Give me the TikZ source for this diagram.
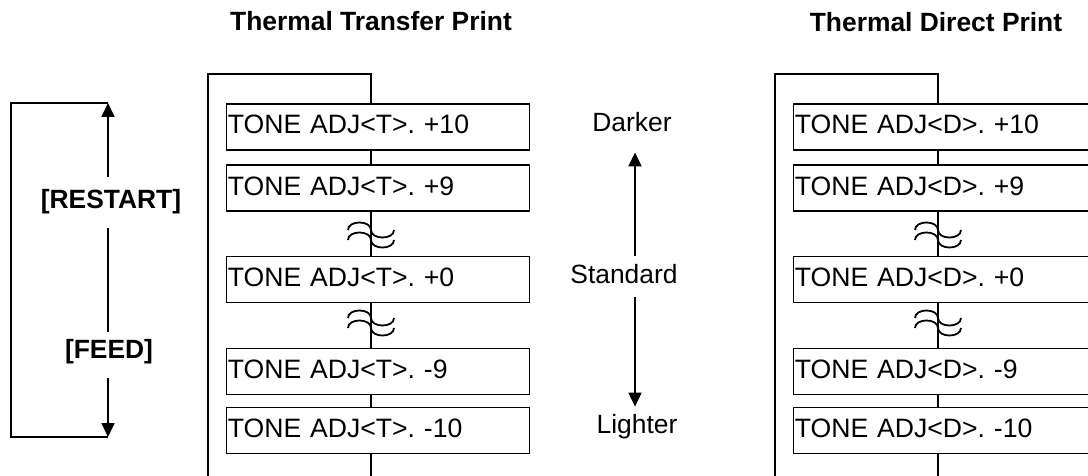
\documentclass[tikz,border=0pt]{standalone}
\usepackage{fontspec}
\setmainfont{Liberation Sans}
\usetikzlibrary{arrows.meta}
\frenchspacing
\tikzset{
  ln/.style={line width=1.7pt},
  tbox/.style={draw, fill=white, line width=1.7pt, anchor=north west,
    inner xsep=1.5pt, inner ysep=0pt, text width=300pt, align=left,
    minimum height=46pt, text height=18pt, text depth=4pt,
    font=\fontsize{26.6}{30}\selectfont},
  lbl/.style={font=\fontsize{26.4}{30}\selectfont, inner sep=0pt, anchor=base},
  blbl/.style={font=\fontsize{26.4}{30}\selectfont\bfseries, inner sep=0pt, anchor=base},
  arr/.style={line width=1.7pt, -{Triangle[length=14pt,width=13pt]}},
}
\newcommand{\tonepanel}[3]{%
  \begin{scope}[xshift=#1]
    \coordinate (#3tl) at (208,74);
    \coordinate (#3tr) at (371,74);
    \coordinate (#3bl) at (208,480);
    \coordinate (#3br) at (371,480);
    \node[tbox] (#3a) at (225.5,103) {TONE ADJ<#2>. +10};
    \node[tbox] (#3b) at (225.5,164.5) {TONE ADJ<#2>. +9};
    \node[tbox] (#3c) at (225.5,255.5) {TONE ADJ<#2>. +0};
    \node[tbox] (#3d) at (225.5,347.5) {TONE ADJ<#2>. -9};
    \node[tbox] (#3e) at (225.5,406.5) {TONE ADJ<#2>. -10};
    \draw[ln] (#3bl) -- (#3tl) -- (#3tr) -- (#3a.north -| #3tr);
    \draw[ln] (#3a.south -| #3tr) -- (#3b.north -| #3tr);
    \draw[ln] (#3b.south -| #3tr) -- (#3c.north -| #3tr);
    \draw[ln] (#3c.south -| #3tr) -- (#3d.north -| #3tr);
    \draw[ln] (#3d.south -| #3tr) -- (#3e.north -| #3tr);
    \draw[ln] (#3e.south -| #3tr) -- (#3br);
    \foreach \yy in {230,240,318,328}{
      \draw[line width=1.8pt] (348,\yy) .. controls (348,\yy-10) and (371,\yy-10) .. (371,\yy)
        .. controls (371,\yy+10) and (394,\yy+10) .. (394,\yy);
    }
  \end{scope}}
\begin{document}
\begin{tikzpicture}[x=1pt,y=-1pt]
  \useasboundingbox (0,0) rectangle (1088,476);
  \clip (0,0) rectangle (1088,476);
  % titles
  \node[blbl] (ttitle) at (371,31) {Thermal Transfer Print};
  \node[blbl] (dtitle) at (936,32) {Thermal Direct Print};
  % panels
  \tonepanel{0pt}{T}{p}
  \tonepanel{567pt}{D}{q}
  % left bracket
  \coordinate (rt) at (108,103);
  \coordinate (rb) at (108,437);
  \coordinate (lt) at (11,103);
  \coordinate (lb) at (11,437);
  \draw[ln] (rt) -- (lt) -- (lb) -- (rb);
  \node[blbl] (restart) at (111,208) {[RESTART]};
  \node[blbl] (feed) at (109,358) {[FEED]};
  \draw[arr, shorten <=12pt] (restart.north -| rt) -- (rt);
  \draw[ln, shorten <=14pt, shorten >=7pt] (restart.south -| rt) -- (feed.north -| rt);
  \draw[arr, shorten <=14pt] (feed.south -| rt) -- (rb);
  % darker / lighter
  \coordinate (ax) at (635,0);
  \node[lbl] (dark) at (632,132) {Darker};
  \node[lbl] (std) at (624,283) {Standard};
  \node[lbl] (light) at (637,433) {Lighter};
  \draw[arr, shorten <=8pt, shorten >=20pt] (std.north -| ax) -- (dark.south -| ax);
  \draw[arr, shorten <=14pt, shorten >=7pt] (std.south -| ax) -- (light.north -| ax);
\end{tikzpicture}
\end{document}
